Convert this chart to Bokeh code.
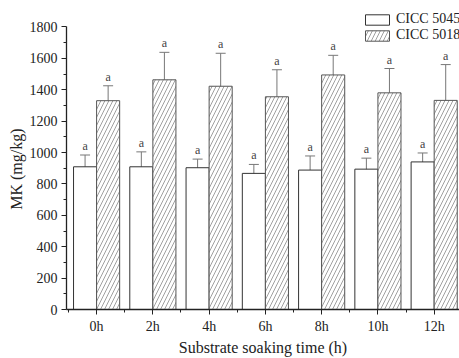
from bokeh.plotting import figure
from bokeh.models import (ColumnDataSource, Whisker, TeeHead, FixedTicker, Legend, LegendItem, Range1d, Title)
from bokeh.embed import file_html
from bokeh.resources import INLINE
from bokeh.core.properties import value

categories = ["0h", "2h", "4h", "6h", "8h", "10h", "12h"]
cicc5045 = [909, 909, 903, 867, 888, 894, 940]
cicc5045_err = [75, 95, 55, 57, 90, 70, 57]
cicc5018 = [1330, 1463, 1422, 1355, 1494, 1380, 1332]
cicc5018_err = [95, 175, 210, 172, 125, 155, 228]
letters5045 = ["a"] * 7
letters5018 = ["a"] * 7
y_ticks = [0, 200, 400, 600, 800, 1000, 1200, 1400, 1600, 1800]

FONT = "Liberation Serif"
bw = 0.41
idx = list(range(len(categories)))
x1 = [i - bw / 2 for i in idx]
x2 = [i + bw / 2 for i in idx]

s1 = ColumnDataSource(dict(x=x1, top=cicc5045,
                           upper=[v + e for v, e in zip(cicc5045, cicc5045_err)],
                           lower=[v - e for v, e in zip(cicc5045, cicc5045_err)],
                           lab=letters5045))
s2 = ColumnDataSource(dict(x=x2, top=cicc5018,
                           upper=[v + e for v, e in zip(cicc5018, cicc5018_err)],
                           lower=[v - e for v, e in zip(cicc5018, cicc5018_err)],
                           lab=letters5018))

y_max = y_ticks[-1]
p = figure(width=459, height=358, output_backend="svg", toolbar_location=None,
           x_range=Range1d(-0.535, 6.45), y_range=Range1d(0, y_max * 316 / 289),
           min_border_left=66, min_border_right=0, min_border_top=0, min_border_bottom=42)
p.outline_line_color = None
p.xgrid.visible = False
p.ygrid.visible = False
p.background_fill_color = "white"
p.border_fill_color = "white"

r1 = p.vbar(x="x", top="top", width=bw, source=s1, fill_color="white",
            line_color="#333333", line_width=1)
r2 = p.vbar(x="x", top="top", width=bw, source=s2, fill_color="white",
            line_color="#555555", line_width=1, hatch_pattern="/",
            hatch_color="#777777", hatch_scale=8, hatch_weight=0.7)

for s in (s1, s2):
    w = Whisker(base="x", upper="upper", lower="lower", source=s,
                line_color="#777777", line_width=1,
                upper_head=TeeHead(size=10, line_color="#777777", line_width=1),
                lower_head=TeeHead(size=10, line_color="#777777", line_width=1))
    p.add_layout(w)
    p.text(x="x", y="upper", text="lab", source=s, text_align="center",
           text_baseline="bottom", text_font=value(FONT), text_font_size="12px",
           text_color="#444444", y_offset=-2)

p.xaxis.ticker = FixedTicker(ticks=idx, minor_ticks=[i + 0.5 for i in idx] + [-0.5])
p.xaxis.major_label_overrides = {i: c for i, c in enumerate(categories)}
p.yaxis.ticker = FixedTicker(ticks=y_ticks, minor_ticks=[v + 100 for v in y_ticks[:-1]])
p.yaxis.bounds = (0, y_max)

for ax in (p.xaxis, p.yaxis):
    ax.axis_line_color = "#222222"
    ax.axis_line_width = 1.3
    ax.major_tick_line_color = "#222222"
    ax.minor_tick_line_color = "#222222"
    ax.major_tick_out = 5
    ax.major_tick_in = 0
    ax.minor_tick_out = 3
    ax.minor_tick_in = 0
    ax.major_label_text_font = FONT
    ax.major_label_text_font_size = "14px"
    ax.major_label_text_color = "#222222"
    ax.axis_label_text_font = FONT
    ax.axis_label_text_font_size = "16px"
    ax.axis_label_text_font_style = "normal"
    ax.axis_label_text_color = "#222222"

p.xaxis.axis_label = "Substrate soaking time (h)"
p.xaxis.axis_label_standoff = 2
p.xaxis.major_label_standoff = 4
p.yaxis.major_label_standoff = 4

ytitle = Title(text="MK (mg/kg)", align="right", offset=128, standoff=4,
               text_font=FONT, text_font_size="16px", text_font_style="normal",
               text_color="#222222")
p.add_layout(ytitle, "left")

legend = Legend(items=[LegendItem(label="CICC 5045", renderers=[r1]),
                       LegendItem(label="CICC 5018", renderers=[r2])],
                location=(296, 266), orientation="vertical",
                padding=0, spacing=0, margin=0, glyph_width=30, glyph_height=13,
                label_height=13, label_standoff=4,
                label_text_font=FONT, label_text_font_size="14px",
                label_text_color="#222222",
                border_line_color=None, background_fill_alpha=0)
p.add_layout(legend)

open("out.html", "w").write(file_html(p, INLINE))
